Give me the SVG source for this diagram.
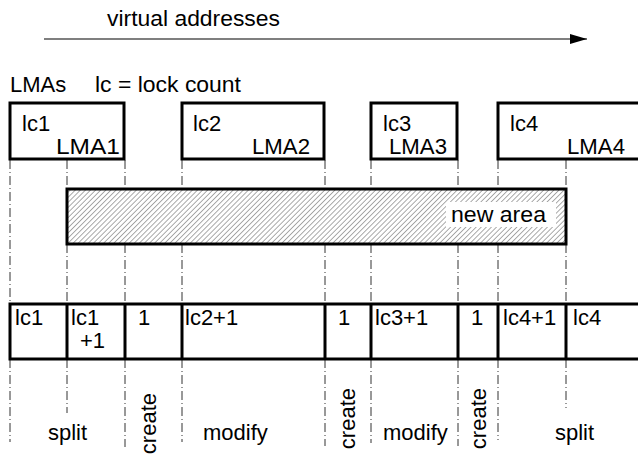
<svg xmlns="http://www.w3.org/2000/svg" width="638" height="456" viewBox="0 0 638 456">
<style>
text{font-family:"Liberation Sans",Arial,sans-serif;font-size:22px;fill:#000}
.box{fill:#fff;stroke:#000;stroke-width:3}
.dd{stroke:#333;stroke-width:1;stroke-dasharray:9 3 1 3;fill:none}
</style>
<defs>
<pattern id="hatch" patternUnits="userSpaceOnUse" width="3.6" height="3.6" patternTransform="rotate(45)">
<line x1="0" y1="0" x2="0" y2="3.6" stroke="#555" stroke-width="1"/>
</pattern>
<marker id="arr" markerWidth="17" markerHeight="10" refX="17" refY="5" orient="auto" markerUnits="userSpaceOnUse">
<path d="M0,0 L17,5 L0,10 Z" fill="#000"/>
</marker>
</defs>
<g id="header">
<line x1="44" y1="39" x2="587" y2="39" stroke="#555" stroke-width="1.5" marker-end="url(#arr)"/>
<text x="107" y="26" textLength="173" lengthAdjust="spacingAndGlyphs">virtual addresses</text>
<text x="10" y="92">LMAs</text>
<text x="95" y="92" textLength="146" lengthAdjust="spacingAndGlyphs">lc = lock count</text>
</g>
<g id="connectors">
<path class="dd" d="M10,160V304M67,160V189M125,160V189M182,160V189M325,160V189M371,160V189M458,160V189M498,160V189M566,160V189"/>
<path class="dd" d="M67,244V304M125,244V304M182,244V304M325,244V304M371,244V304M458,244V304M498,244V304M566,244V304"/>
<path class="dd" d="M10,359V442M67,359V413M125,359V447M182,359V442M325,359V446M371,359V443M458,359V446M498,359V440M566,359V408"/>
</g>
<g id="lma1"><rect class="box" x="10" y="103" width="114" height="56"/><text x="22" y="131">lc1</text><text x="56" y="154" textLength="64" lengthAdjust="spacingAndGlyphs">LMA1</text></g>
<g id="lma2"><rect class="box" x="182" y="103" width="142" height="56"/><text x="193" y="131">lc2</text><text x="252" y="154" textLength="58" lengthAdjust="spacingAndGlyphs">LMA2</text></g>
<g id="lma3"><rect class="box" x="371" y="103" width="86" height="56"/><text x="383" y="131">lc3</text><text x="389" y="154" textLength="58" lengthAdjust="spacingAndGlyphs">LMA3</text></g>
<g id="lma4"><rect class="box" x="498" y="103" width="160" height="56"/><text x="510" y="131">lc4</text><text x="567" y="154" textLength="58" lengthAdjust="spacingAndGlyphs">LMA4</text></g>
<g id="newarea">
<rect x="67" y="189" width="499" height="55" fill="url(#hatch)" stroke="#000" stroke-width="3"/>
<rect x="446" y="202" width="110" height="25" fill="#fff"/>
<text x="451" y="222" textLength="95" lengthAdjust="spacingAndGlyphs">new area</text>
</g>
<g id="result">
<rect class="box" x="10" y="304" width="650" height="55"/>
<path d="M67,304V359M125,304V359M182,304V359M325,304V359M371,304V359M458,304V359M498,304V359M566,304V359" stroke="#000" stroke-width="3"/>
<text x="15" y="325">lc1</text>
<text x="71" y="325">lc1</text><text x="80" y="348">+1</text>
<text x="138" y="325">1</text>
<text x="185" y="325">lc2+1</text>
<text x="338" y="325">1</text>
<text x="375" y="325">lc3+1</text>
<text x="471" y="325">1</text>
<text x="503" y="325">lc4+1</text>
<text x="573" y="325">lc4</text>
</g>
<g id="ops">
<text x="48" y="440">split</text>
<text transform="translate(155.5,393) rotate(-90)" text-anchor="end">create</text>
<text x="203" y="440">modify</text>
<text transform="translate(354.7,388) rotate(-90)" text-anchor="end">create</text>
<text x="383" y="440">modify</text>
<text transform="translate(486,388) rotate(-90)" text-anchor="end">create</text>
<text x="555" y="440">split</text>
</g>
</svg>
